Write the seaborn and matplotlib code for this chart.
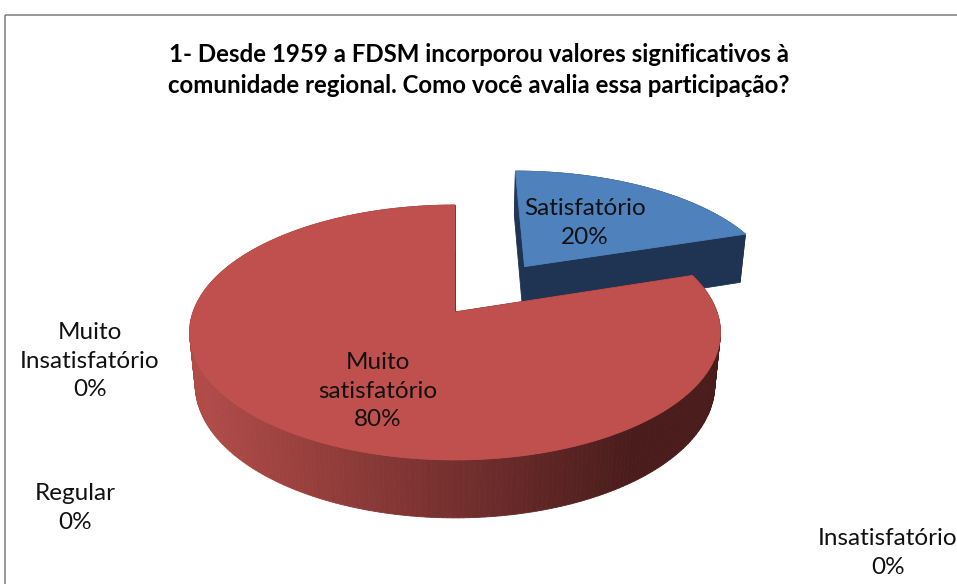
import matplotlib
matplotlib.use('Agg')
import matplotlib.pyplot as plt
import seaborn as sns
import numpy as np
from matplotlib.patches import Polygon, Rectangle

# data
categories = ['Satisfatório', 'Muito satisfatório', 'Insatisfatório', 'Regular', 'Muito Insatisfatório']
values = [20, 80, 0, 0, 0]
explode = [0.48, 0.0, 0.0, 0.0, 0.0]
title = ("1- Desde 1959 a FDSM incorporou valores significativos à\n"
         "comunidade regional. Como você avalia essa participação?")

top_colors = ['#4f81bd', '#c0504d', '#9bbb59', '#8064a2', '#4bacc6']
side_light = ['#2a4468', '#b04b48', '#7a9446', '#654f81', '#3b889d']
side_dark = ['#1f3452', '#4a1c1c', '#4d5e2c', '#403251', '#255663']

sns.set_style('white')
plt.rcParams['font.family'] = ['Lato', 'DejaVu Sans']

fig = plt.figure(figsize=(9.57, 5.84), dpi=100)
ax = fig.add_axes([0, 0, 1, 1])
ax.set_xlim(0, 957)
ax.set_ylim(584, 0)
ax.axis('off')

# chart frame
ax.add_patch(Rectangle((5, 15), 1000, 700, fill=False, edgecolor='#868686', lw=1.2))

# simple perspective camera for the 3d pie
HX, HY = 455, 312
FX, FY = 1425, 1393
TILT = np.radians(29)
D0 = 5.44
H = 0.2366


def proj(x, z, y=0.0):
    yc = y * np.cos(TILT) + z * np.sin(TILT)
    d = z * np.cos(TILT) - y * np.sin(TILT) + D0
    return HX + FX * x / d, HY - FY * yc / d


def poly(pts, color):
    ax.add_patch(Polygon(pts, closed=True, facecolor=color, edgecolor=color, lw=0.6))


total = float(sum(values))
slices = []
start = 0.0
for i, v in enumerate(values):
    ang = 360.0 * v / total
    if v > 0:
        mid = np.radians(start + ang / 2)
        ox, oz = explode[i] * np.sin(mid), explode[i] * np.cos(mid)
        slices.append((i, np.radians(start), np.radians(start + ang), ox, oz, np.cos(mid) + oz))
    start += ang

# back slices first
slices.sort(key=lambda s: -s[5])

for i, t0, t1, ox, oz, _ in slices:
    grad = sns.blend_palette([side_light[i], side_dark[i]], n_colors=64)
    # radial walls
    for t in (t0, t1):
        rx, rz = ox + np.sin(t), oz + np.cos(t)
        poly([proj(ox, oz), proj(rx, rz), proj(rx, rz, -H), proj(ox, oz, -H)], side_dark[i])
    # outer side band with horizontal gradient
    th = np.linspace(t0, t1, max(int(np.degrees(t1 - t0)), 2))
    for a, b in zip(th[:-1], th[1:]):
        pa = (ox + np.sin(a), oz + np.cos(a))
        pb = (ox + np.sin(b), oz + np.cos(b))
        quad = [proj(*pa), proj(*pb), proj(pb[0], pb[1], -H), proj(pa[0], pa[1], -H)]
        u = (quad[0][0] + quad[1][0]) / 2
        k = int(np.clip((u - 200) / 430, 0, 1) * 63)
        poly(quad, grad[k])
    # top face
    rim = [proj(ox + np.sin(t), oz + np.cos(t)) for t in np.linspace(t0, t1, 200)]
    poly([proj(ox, oz)] + rim, top_colors[i])

# labels
pct = [f"{v / total * 100:.0f}%" for v in values]
fs = 17.5
kw = dict(ha='center', va='center', fontsize=fs, linespacing=1.45, color='#111111')
ax.text(585, 223, f"Satisfatório\n{pct[0]}", **kw)
ax.text(378, 391, f"Muito\nsatisfatório\n{pct[1]}", **kw)
ax.text(888, 553, f"Insatisfatório\n{pct[2]}", **kw)
ax.text(75, 508, f"Regular\n{pct[3]}", **kw)
ax.text(90, 361, f"Muito\nInsatisfatório\n{pct[4]}", **kw)

ax.text(479, 70, title, ha='center', va='center', fontsize=17.3, fontweight='bold',
        linespacing=1.45, color='#000000')

fig.savefig('out.png', dpi=100, facecolor='white')
